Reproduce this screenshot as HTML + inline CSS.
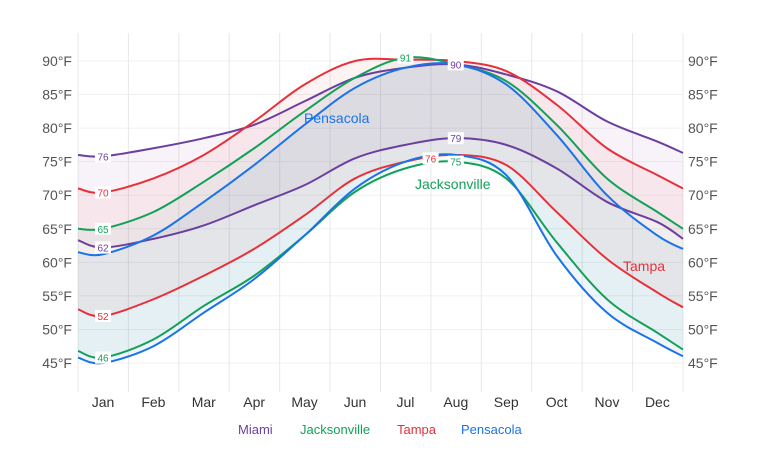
<!DOCTYPE html>
<html><head><meta charset="utf-8"><style>
body{margin:0;background:#fff;font-family:"Liberation Sans",sans-serif}
svg text{font-family:"Liberation Sans",sans-serif}
</style></head><body>
<svg id="chart" width="757" height="450" xmlns="http://www.w3.org/2000/svg">
<g id="grid"></g><g id="fills"></g><g id="lines"></g><g id="labels"></g><g id="axes"></g>
<g font-size="13">
<text x="238" y="434" fill="#6b3fa0">Miami</text>
<text x="300" y="434" fill="#13a15a">Jacksonville</text>
<text x="397" y="434" fill="#e8303a">Tampa</text>
<text x="461" y="434" fill="#1a73e8">Pensacola</text>
</g>
<text x="304" y="123" font-size="14" fill="#1a73e8">Pensacola</text>
<text x="415" y="189" font-size="14" fill="#13a15a">Jacksonville</text>
<text x="623" y="271" font-size="14" fill="#e8303a">Tampa</text>
</svg>
<script>
const months=["Jan","Feb","Mar","Apr","May","Jun","Jul","Aug","Sep","Oct","Nov","Dec"];
const yTicks=[45,50,55,60,65,70,75,80,85,90];
const miamiHigh=[76,75.8,77,78.5,80.5,84,87.5,89,89.5,88,85.5,81,78,76.3];
const miamiLow=[63.3,62.2,63.5,65.5,68.5,71.5,75.5,77.5,78.5,77.5,74,69,66,63.5];
const tampaHigh=[71,70.4,72.5,76,81,86.5,90,90.2,90,88.5,83.5,77,73,71];
const tampaLow=[53,52,54.5,58,62,67,72.5,75,76,74.5,67.5,60.5,55.5,53.3];
const jaxHigh=[65,65,67.5,72,77,82.5,87.5,90.5,89.5,87,80.5,72.5,67.5,65];
const jaxLow=[46.8,45.8,48.5,53.5,58,64,70.5,74,75,72.5,63,54.5,49.5,47];
const penHigh=[61.5,61.2,64,69,74.5,80.5,86,89,89.5,86.5,79,70,64,62];
const penLow=[45.8,45,47.5,52.5,57.5,64,71,75,76,73,61,52.5,48,46];
const NS="http://www.w3.org/2000/svg";
const X0=78,X1=683,STEP=50.4;
function xAt(i){if(i===0)return X0;if(i===13)return X1;return 103+(i-1)*STEP;}
function yOf(v){return 363-(v-45)*(302/45);}
function mk(tag,attrs,parent){const e=document.createElementNS(NS,tag);for(const k in attrs)e.setAttribute(k,attrs[k]);document.getElementById(parent).appendChild(e);return e;}
function pts(arr){return arr.map((v,i)=>[xAt(i),yOf(v)]);}
function curve(p){let d="M"+p[0][0]+","+p[0][1];for(let i=0;i<p.length-1;i++){const p0=p[Math.max(0,i-1)],p1=p[i],p2=p[i+1],p3=p[Math.min(p.length-1,i+2)];const c1=[p1[0]+(p2[0]-p0[0])/6,p1[1]+(p2[1]-p0[1])/6],c2=[p2[0]-(p3[0]-p1[0])/6,p2[1]-(p3[1]-p1[1])/6];d+=" C"+c1[0]+","+c1[1]+" "+c2[0]+","+c2[1]+" "+p2[0]+","+p2[1];}return d;}
function rev(p){return p.slice().reverse();}
yTicks.forEach(t=>{const y=yOf(t);
 const l=mk("line",{x1:X0,x2:X1,y1:y,y2:y,stroke:"#f0f0f0"},"grid");
 
 
 const a=mk("text",{x:72,y:y+5,"text-anchor":"end","font-size":"14",fill:"#555"},"axes");a.textContent=t+"°F";
 
 
 const b=mk("text",{x:688,y:y+5,"font-size":"14",fill:"#555"},"axes");b.textContent=t+"°F";
 
 
});
for(let i=0;i<=12;i++){const x=X0+i*(X1-X0)/12;
 const l=mk("line",{x1:x,x2:x,y1:33,y2:392,stroke:"#e8e8e8"},"grid");
 
 }
months.forEach((m,i)=>{const t=mk("text",{x:xAt(i+1),y:407,"text-anchor":"middle","font-size":"14",fill:"#333"},"axes");t.textContent=m;
 
 });
const series=[
 ["miami",miamiHigh,miamiLow,"#6b3fa0","rgba(150,80,170,0.07)"],
 ["tampa",tampaHigh,tampaLow,"#e8303a","rgba(232,48,58,0.06)"],
 ["jacksonville",jaxHigh,jaxLow,"#13a15a","rgba(20,160,90,0.05)"],
 ["pensacola",penHigh,penLow,"#1a73e8","rgba(40,120,200,0.07)"]];
series.forEach(([n,hi,lo,c,f])=>{
 const ph=pts(hi),pl=pts(lo);
 const d=curve(ph)+" L"+curve(rev(pl)).slice(1)+" Z";
 const a=mk("path",{d:d,fill:f,stroke:"none"},"fills");
 
 
 [[ph,"high"],[pl,"low"]].forEach(([p,k])=>{
  const l=mk("path",{d:curve(p),fill:"none",stroke:c,"stroke-width":"2"},"lines");
  
  });
});
const labs=[[1,miamiHigh,"#6b3fa0"],[1,miamiLow,"#6b3fa0"],[1,tampaHigh,"#e8303a"],[1,tampaLow,"#e8303a"],[1,jaxHigh,"#13a15a"],[1,jaxLow,"#13a15a"],[8,miamiHigh,"#6b3fa0"],[8,miamiLow,"#6b3fa0"],[7,jaxHigh,"#13a15a"],[8,jaxLow,"#13a15a"],[7.5,tampaLow,"#e8303a"]];
labs.forEach(([i,arr,c])=>{const idx=Math.floor(i);const v=i===idx?arr[idx]:(arr[idx]+arr[idx+1])/2;
 const x=i===idx?xAt(idx):(xAt(idx)+xAt(idx+1))/2,y=yOf(v);
 const r=mk("rect",{x:x-8,y:y-6,width:16,height:12,fill:"#fff"},"labels");
 
 
 const t=mk("text",{x:x,y:y+4,"text-anchor":"middle","font-size":"10",fill:c},"labels");t.textContent=Math.round(v);
 
 });
</script>
</body></html>
